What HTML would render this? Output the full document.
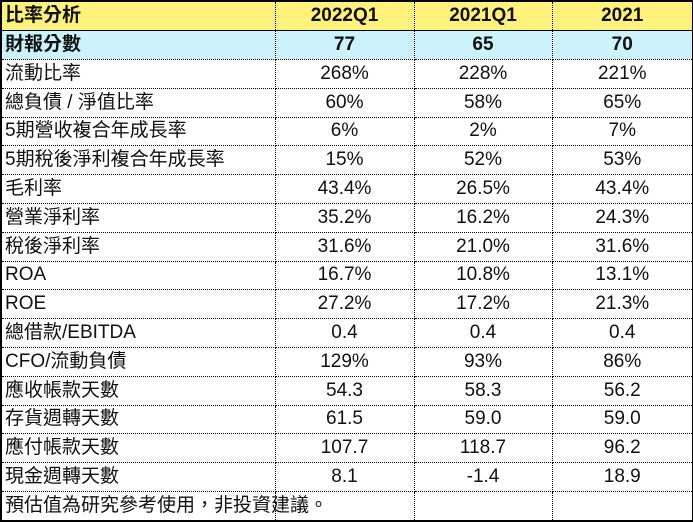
<!DOCTYPE html>
<html><head><meta charset="utf-8"><style>
html,body{margin:0;padding:0;background:#fff;width:693px;height:523px;overflow:hidden}
table{position:absolute;left:0;top:0;border-collapse:collapse;table-layout:fixed;width:692px;border:2px solid #000;font-family:"Liberation Sans","Noto Sans CJK TC",sans-serif;font-size:19px;color:#111}
td{border:1px dotted #000;padding:0 3px;height:27.8px;line-height:22px;white-space:nowrap;overflow:hidden}
td.v{text-align:center}
tr.h td{background:#fff27c;font-weight:bold;height:28px;border-bottom:1px solid #000}
tr.s td{background:#ccf3fb;font-weight:bold;height:28px}
tr.f td{height:28px}
</style></head><body>
<table>
<colgroup><col style="width:274px"><col style="width:139px"><col style="width:138px"><col style="width:141px"></colgroup>
<tr class="h"><td>比率分析</td><td class="v">2022Q1</td><td class="v">2021Q1</td><td class="v">2021</td></tr>
<tr class="s"><td>財報分數</td><td class="v">77</td><td class="v">65</td><td class="v">70</td></tr>
<tr><td>流動比率</td><td class="v">268%</td><td class="v">228%</td><td class="v">221%</td></tr>
<tr><td>總負債 / 淨值比率</td><td class="v">60%</td><td class="v">58%</td><td class="v">65%</td></tr>
<tr><td>5期營收複合年成長率</td><td class="v">6%</td><td class="v">2%</td><td class="v">7%</td></tr>
<tr><td>5期稅後淨利複合年成長率</td><td class="v">15%</td><td class="v">52%</td><td class="v">53%</td></tr>
<tr><td>毛利率</td><td class="v">43.4%</td><td class="v">26.5%</td><td class="v">43.4%</td></tr>
<tr><td>營業淨利率</td><td class="v">35.2%</td><td class="v">16.2%</td><td class="v">24.3%</td></tr>
<tr><td>稅後淨利率</td><td class="v">31.6%</td><td class="v">21.0%</td><td class="v">31.6%</td></tr>
<tr><td>ROA</td><td class="v">16.7%</td><td class="v">10.8%</td><td class="v">13.1%</td></tr>
<tr><td>ROE</td><td class="v">27.2%</td><td class="v">17.2%</td><td class="v">21.3%</td></tr>
<tr><td>總借款/EBITDA</td><td class="v">0.4</td><td class="v">0.4</td><td class="v">0.4</td></tr>
<tr><td>CFO/流動負債</td><td class="v">129%</td><td class="v">93%</td><td class="v">86%</td></tr>
<tr><td>應收帳款天數</td><td class="v">54.3</td><td class="v">58.3</td><td class="v">56.2</td></tr>
<tr><td>存貨週轉天數</td><td class="v">61.5</td><td class="v">59.0</td><td class="v">59.0</td></tr>
<tr><td>應付帳款天數</td><td class="v">107.7</td><td class="v">118.7</td><td class="v">96.2</td></tr>
<tr><td>現金週轉天數</td><td class="v">8.1</td><td class="v">-1.4</td><td class="v">18.9</td></tr>
<tr class="f"><td style="overflow:visible">預估值為研究參考使用，非投資建議。</td><td></td><td></td><td></td></tr>
</table>
</body></html>
